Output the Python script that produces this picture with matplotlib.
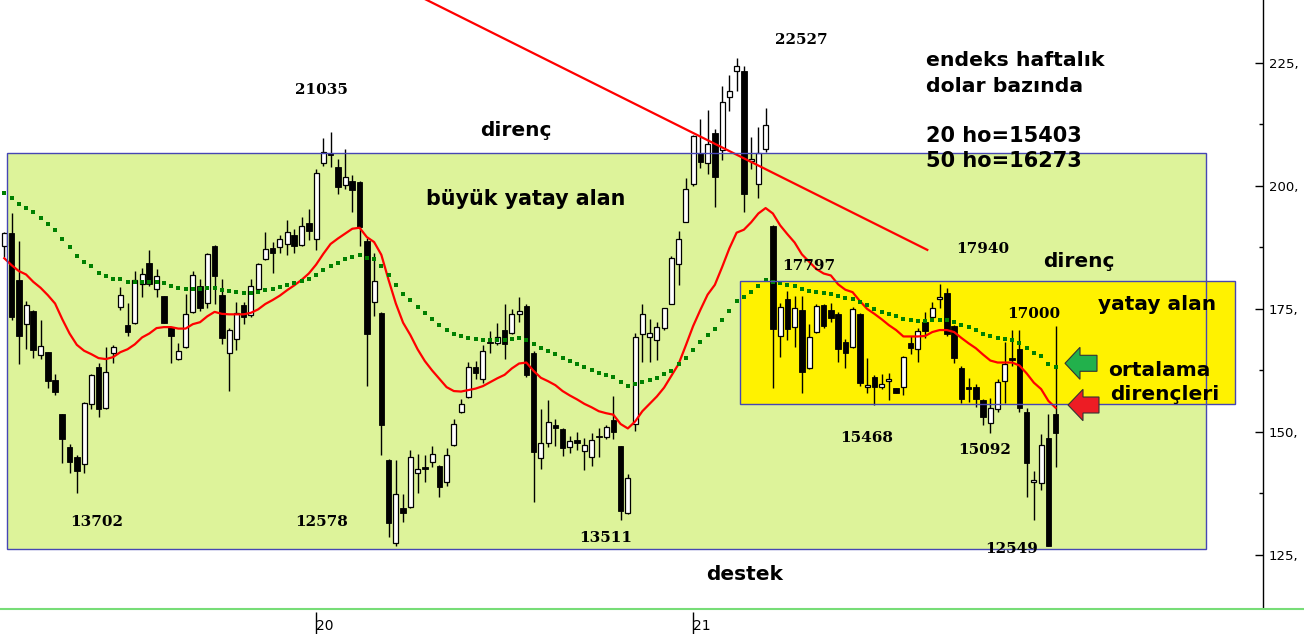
import matplotlib
matplotlib.use('Agg')
import matplotlib.pyplot as plt
from matplotlib.patches import Rectangle, Polygon
from matplotlib.lines import Line2D
import numpy as np

# haftalık mumlar, endeks dolar bazında (/100)
opens = [187.7, 190.4, 180.9, 171.9, 174.6, 165.6, 166.2, 160.6, 153.6, 146.9,
         144.9, 143.4, 155.6, 163.1, 154.8, 166.0, 175.3, 171.7, 172.1, 180.0,
         184.3, 179.0, 177.6, 171.3, 164.9, 167.2, 174.3, 179.7, 176.3, 187.8,
         177.8, 166.0, 168.8, 175.7, 173.7, 179.0, 185.1, 187.4, 187.5, 188.1,
         190.0, 187.9, 192.4, 189.2, 204.6, 206.6, 203.8, 200.1, 201.0, 200.7,
         188.8, 176.5, 174.2, 144.3, 127.4, 134.5, 134.8, 141.6, 142.8, 143.9,
         143.1, 139.8, 147.3, 154.0, 157.0, 163.1, 160.7, 168.3, 168.0, 170.7,
         170.1, 173.9, 175.6, 166.0, 144.6, 147.7, 151.3, 150.6, 146.9, 148.4,
         146.2, 144.8, 149.2, 148.9, 152.4, 147.1, 133.5, 151.6, 169.8, 169.2,
         168.7, 171.1, 176.1, 184.1, 192.7, 200.3, 206.6, 204.6, 210.7, 207.3,
         218.1, 223.3, 223.4, 205.1, 200.3, 207.5, 191.9, 169.5, 177.0, 171.4,
         174.8, 162.9, 170.3, 175.8, 174.8, 174.0, 168.3, 167.2, 174.0, 159.1,
         161.1, 159.2, 160.4, 158.9, 159.1, 168.0, 166.8, 172.3, 173.3, 177.0,
         178.2, 171.5, 162.9, 158.9, 159.2, 156.5, 151.9, 154.7, 160.3, 165.0,
         166.8, 154.1, 139.8, 139.6, 148.7, 153.6]
highs = [190.6, 194.4, 188.8, 176.6, 174.8, 172.8, 166.3, 161.7, 153.7, 147.5,
         145.3, 156.0, 161.8, 164.1, 167.2, 167.7, 179.4, 176.3, 182.7, 183.3,
         187.0, 183.1, 177.7, 171.4, 168.0, 178.0, 182.7, 181.0, 186.4, 188.0,
         181.0, 171.1, 176.4, 176.4, 181.0, 184.3, 190.6, 188.6, 190.0, 193.1,
         191.3, 193.6, 195.3, 203.4, 209.7, 210.9, 205.4, 207.5, 202.2, 201.1,
         189.4, 186.3, 174.4, 144.4, 144.3, 137.3, 146.3, 145.6, 145.3, 147.1,
         143.2, 146.7, 152.6, 156.7, 164.2, 164.4, 167.7, 170.5, 172.1, 176.0,
         174.9, 177.4, 176.0, 166.4, 154.6, 156.5, 152.6, 150.7, 149.2, 149.9,
         148.7, 149.7, 150.7, 151.3, 157.3, 147.2, 141.4, 170.1, 176.1, 172.9,
         172.4, 175.2, 185.8, 190.8, 201.7, 210.3, 213.6, 215.4, 211.6, 220.3,
         222.6, 226.0, 224.4, 209.9, 211.9, 215.8, 192.0, 176.3, 178.6, 177.6,
         177.6, 171.9, 176.0, 176.1, 176.3, 174.4, 168.8, 175.3, 174.2, 165.0,
         161.6, 161.7, 161.9, 159.0, 165.4, 169.4, 171.1, 174.3, 176.5, 180.1,
         179.2, 171.7, 163.4, 160.9, 159.7, 156.6, 156.9, 160.8, 168.3, 170.7,
         170.7, 154.8, 142.1, 149.5, 153.6, 171.5]
lows = [185.6, 172.8, 163.8, 166.9, 165.1, 164.9, 159.0, 157.4, 143.7, 141.7,
        137.6, 141.6, 154.7, 153.1, 154.6, 164.1, 174.8, 169.4, 171.9, 177.5,
        179.7, 177.5, 172.1, 164.1, 164.6, 167.0, 174.2, 174.6, 175.1, 176.1,
        167.9, 158.4, 166.7, 171.9, 173.4, 178.9, 185.0, 182.4, 186.4, 186.0,
        186.4, 187.8, 189.0, 187.0, 204.1, 203.9, 198.4, 199.3, 194.6, 187.7,
        159.4, 173.6, 145.4, 128.7, 126.7, 131.7, 134.5, 137.6, 139.9, 142.9,
        136.8, 139.1, 147.2, 153.9, 156.9, 160.7, 159.9, 166.1, 167.7, 164.9,
        170.0, 172.4, 161.2, 135.8, 142.5, 147.0, 147.2, 145.0, 145.8, 146.3,
        142.3, 143.1, 144.8, 148.6, 148.6, 132.0, 133.4, 150.2, 164.3, 164.3,
        164.6, 170.7, 176.0, 179.9, 192.6, 200.0, 203.7, 202.4, 195.8, 205.3,
        215.3, 219.2, 194.8, 203.4, 197.6, 207.0, 158.9, 165.3, 168.7, 167.3,
        158.0, 162.8, 170.2, 171.2, 172.4, 164.3, 162.9, 167.1, 159.3, 158.0,
        155.5, 158.7, 156.5, 157.9, 157.6, 165.8, 164.3, 169.0, 172.8, 175.1,
        169.5, 164.1, 155.8, 156.1, 155.1, 151.5, 149.7, 154.1, 155.8, 163.4,
        154.1, 136.8, 132.0, 138.2, 126.7, 142.9]
closes = [190.4, 173.4, 169.4, 175.8, 166.7, 167.4, 160.4, 158.2, 148.6, 143.9,
          142.1, 155.8, 161.5, 154.6, 162.1, 167.2, 177.8, 170.4, 180.8, 182.0,
          180.0, 181.6, 172.2, 169.4, 166.4, 174.0, 181.9, 175.1, 186.1, 181.6,
          169.0, 170.7, 174.1, 173.3, 179.6, 184.1, 187.1, 186.4, 189.2, 190.6,
          187.7, 191.8, 190.9, 202.6, 206.8, 206.2, 199.7, 201.8, 199.1, 191.6,
          170.0, 180.6, 151.5, 131.4, 137.3, 133.5, 144.8, 142.4, 142.5, 145.5,
          138.7, 145.3, 151.7, 155.6, 163.1, 161.9, 166.4, 168.0, 169.2, 167.8,
          173.9, 174.6, 161.6, 146.0, 147.7, 152.0, 150.7, 146.8, 148.1, 147.7,
          147.3, 148.4, 148.9, 150.9, 150.0, 134.0, 140.6, 169.2, 173.9, 170.1,
          171.3, 175.1, 185.3, 189.2, 199.3, 210.2, 204.9, 208.5, 201.9, 217.0,
          219.2, 224.3, 198.4, 205.4, 206.6, 212.3, 171.0, 175.3, 170.9, 175.1,
          162.2, 169.2, 175.6, 171.6, 173.1, 166.8, 166.1, 174.9, 159.9, 159.4,
          159.1, 159.7, 160.8, 158.0, 165.3, 167.0, 170.5, 170.6, 175.1, 177.2,
          169.9, 165.0, 156.6, 158.7, 156.6, 153.0, 154.8, 160.1, 163.9, 164.6,
          154.8, 143.7, 140.2, 147.3, 126.9, 149.8]

# hareketli ortalamalar
ma20 = [185.3, 183.9, 182.7, 182.0, 180.5, 179.3, 177.8, 176.1, 172.9, 170.0,
        167.7, 166.5, 165.8, 165.0, 164.8, 165.2, 166.2, 166.8, 167.8, 169.2,
        170.0, 171.1, 171.3, 171.3, 171.0, 171.0, 171.9, 172.3, 173.5, 174.4,
        174.0, 173.9, 173.9, 173.9, 174.2, 174.9, 176.0, 176.8, 177.7, 178.8,
        179.8, 180.9, 182.2, 184.0, 186.2, 188.2, 189.3, 190.3, 191.3, 191.5,
        189.6, 188.6, 186.0, 180.9, 176.1, 172.2, 169.7, 166.8, 164.4, 162.5,
        160.8, 159.1, 158.3, 158.2, 158.5, 158.8, 159.3, 160.1, 160.9, 161.6,
        162.9, 163.9, 164.1, 162.4, 161.0, 160.3, 159.5, 158.3, 157.4, 156.6,
        155.7, 155.0, 154.2, 153.8, 153.5, 151.6, 150.7, 152.1, 154.2, 155.7,
        157.2, 159.0, 161.4, 163.8, 167.6, 171.5, 174.8, 177.9, 179.9, 183.5,
        187.3, 190.5, 191.1, 192.6, 194.4, 195.5, 194.4, 192.0, 190.2, 188.5,
        186.1, 184.6, 183.1, 182.2, 181.8, 180.0, 178.9, 178.4, 176.6, 175.0,
        174.0, 172.9, 171.7, 170.7, 169.4, 169.4, 169.4, 169.5, 170.3, 170.7,
        170.7, 170.3, 169.1, 168.0, 167.0, 165.7, 164.5, 164.1, 164.1, 164.1,
        163.5, 161.9, 160.0, 158.7, 156.3, 154.9]
ma50 = [198.6, 197.6, 196.4, 195.6, 194.6, 193.5, 192.2, 191.0, 189.2, 187.5,
        185.7, 184.5, 183.7, 182.4, 181.6, 181.1, 181.0, 180.5, 180.5, 180.5,
        180.5, 180.5, 180.3, 179.7, 179.3, 179.1, 179.1, 179.1, 179.3, 179.2,
        178.9, 178.6, 178.4, 178.2, 178.2, 178.4, 178.9, 179.1, 179.5, 179.9,
        180.2, 180.7, 181.1, 181.9, 182.9, 183.7, 184.4, 185.2, 185.6, 185.9,
        185.3, 185.2, 183.8, 181.8, 179.9, 178.0, 176.8, 175.4, 174.2, 173.0,
        171.8, 170.7, 170.0, 169.4, 169.1, 168.8, 168.7, 168.7, 168.7, 168.7,
        168.9, 169.1, 168.7, 167.9, 167.0, 166.4, 165.8, 165.1, 164.4, 163.8,
        163.2, 162.6, 162.0, 161.6, 161.2, 160.1, 159.3, 159.7, 160.2, 160.6,
        161.0, 161.7, 162.4, 163.7, 165.0, 166.7, 168.2, 169.7, 171.0, 172.8,
        174.6, 176.7, 177.5, 178.5, 179.7, 180.9, 180.5, 180.2, 179.9, 179.7,
        179.1, 178.7, 178.4, 178.2, 178.0, 177.6, 177.3, 177.0, 176.4, 175.7,
        175.0, 174.4, 174.0, 173.5, 173.0, 172.8, 172.6, 172.6, 172.8, 172.8,
        172.8, 172.3, 171.8, 171.3, 170.7, 170.0, 169.5, 169.1, 168.9, 168.7,
        168.1, 167.0, 166.1, 165.4, 163.9, 163.2]

year_ticks = [43, 95]          # yılın ilk haftası (mum sırası)
year_labels = ['20', '21']
y_ticks = [125, 150, 175, 200, 225]
y_labels = ['125,', '150,', '175,', '200,', '225,']
y_minor = [137.5, 162.5, 187.5, 212.5]

# bölgeler: (x0, x1, alt, ust)
big_zone = (0.4, 165.7, 126.2, 206.6)
yellow_zone = (101.4, 169.7, 155.6, 180.6)
trend_x = [58.0, 127.3]
trend_y = [238.0, 187.0]

W, H = 1304, 634
AX_W, AX_H = 1263, 607
fig = plt.figure(figsize=(W / 100, H / 100), dpi=100)
ax = fig.add_axes([0, (H - AX_H) / H, AX_W / W, AX_H / H])
ax.set_xlim(-0.593, 173.6)
ax.set_ylim(114.4, 237.8)


def px(x, y):
    # referans resmindeki piksel -> eksen oranı
    return x / AX_W, 1 - y / AX_H


# yatay alanlar
x0, x1, b0, b1 = big_zone
ax.add_patch(Rectangle((x0, b0), x1 - x0, b1 - b0, facecolor='#ddf39a',
                       edgecolor='none', zorder=1))
yx0, yx1, yb0, yb1 = yellow_zone
ax.add_patch(Rectangle((yx0, yb0), yx1 - yx0, yb1 - yb0, facecolor='#fff200',
                       edgecolor='none', zorder=2))
for (a0, a1, c0, c1) in [big_zone, yellow_zone]:
    ax.add_patch(Rectangle((a0, c0), a1 - a0, c1 - c0, fill=False,
                           edgecolor='#4646b4', lw=1.0, zorder=7))

# mumlar
idx = np.arange(len(opens))
o = np.array(opens)
c = np.array(closes)
up = c >= o
body_lo = np.minimum(o, c)
body_h = np.maximum(np.abs(c - o), 0.35)
ax.vlines(idx, lows, highs, color='black', lw=1.0, zorder=3)
ax.bar(idx[up], body_h[up], bottom=body_lo[up], width=0.68, color='white',
       edgecolor='black', lw=0.9, zorder=4)
ax.bar(idx[~up], body_h[~up], bottom=body_lo[~up], width=0.78, color='black',
       edgecolor='black', lw=0.6, zorder=4)

# ortalamalar ve trend
ax.plot(idx, ma20, color='#ff0000', lw=1.6, zorder=5)
ax.plot(idx, ma50, ls='none', marker='s', ms=3.3, mew=0, color='#008000', zorder=5)
ax.plot(trend_x, trend_y, color='#ff0000', lw=1.6, zorder=6)

# eksenler
for s in ['left', 'top', 'bottom']:
    ax.spines[s].set_visible(False)
ax.spines['right'].set_linewidth(1.0)
ax.yaxis.tick_right()
ax.set_yticks(y_ticks, y_labels)
ax.set_yticks(y_minor, minor=True)
ax.tick_params(axis='y', which='major', direction='in', length=6, width=1,
               pad=4, labelsize=9.5)
ax.tick_params(axis='y', which='minor', direction='in', length=3, width=1)
ax.set_xticks(year_ticks, year_labels)
ax.tick_params(axis='x', length=0, pad=8.5, labelsize=10)
for t in ax.get_xticklabels():
    t.set_ha('left')
ax.vlines(year_ticks, -5 / AX_H, -27 / AX_H, transform=ax.get_xaxis_transform(),
          color='black', lw=1, clip_on=False)
fig.add_artist(Line2D([0, 1], [1 - 608.5 / H] * 2, transform=fig.transFigure,
                      color='#77dd77', lw=1.5))

# yazılar
sans = ['DejaVu Sans']
serif = ['DejaVu Serif']
words = [
    ('direnç', 480, 136.5, 14.5),
    ('büyük yatay alan', 426, 205, 14.9),
    ('destek', 706, 580, 14.5),
    ('endeks haftalık', 926, 66.5, 14.7),
    ('dolar bazında', 926, 92, 14.7),
    ('20 ho=15403', 926, 141.5, 15),
    ('50 ho=16273', 926, 167, 15),
    ('direnç', 1043, 267, 14.5),
    ('yatay alan', 1098, 310, 14.5),
    ('ortalama', 1108, 376, 14.5),
    ('dirençleri', 1110, 399.5, 14.5),
]
for s, x, y, fs in words:
    ax.text(*px(x, y), s, transform=ax.transAxes, ha='left', va='baseline',
            fontsize=fs, fontweight='bold', family=sans, zorder=9)

numbers = [
    ('21035', 295, 94), ('22527', 775, 44), ('13702', 70, 526.5),
    ('12578', 295, 526.5), ('13511', 579, 541.5), ('17797', 782, 270),
    ('17940', 956, 253), ('17000', 1007, 318), ('15468', 840, 441.5),
    ('15092', 958, 454), ('12549', 985, 553),
]
for s, x, y in numbers:
    ax.text(*px(x, y), s, transform=ax.transAxes, ha='left', va='baseline',
            fontsize=11, fontweight='bold', family=serif, zorder=9)

# ortalama direnç okları
green_arrow = [(1065, 363.3), (1080, 347.3), (1080, 355.3), (1097, 355.3),
               (1097, 371.3), (1080, 371.3), (1080, 379.3)]
red_arrow = [(1068, 405), (1083, 389.3), (1083, 397), (1099, 397),
             (1099, 413), (1083, 413), (1083, 420.7)]
for pts, col in [(green_arrow, '#22b14c'), (red_arrow, '#ed1c24')]:
    ax.add_patch(Polygon([px(x, y) for x, y in pts], closed=True,
                         transform=ax.transAxes, facecolor=col,
                         edgecolor='#333333', lw=0.8, zorder=9))

plt.savefig('out.png', dpi=100)
